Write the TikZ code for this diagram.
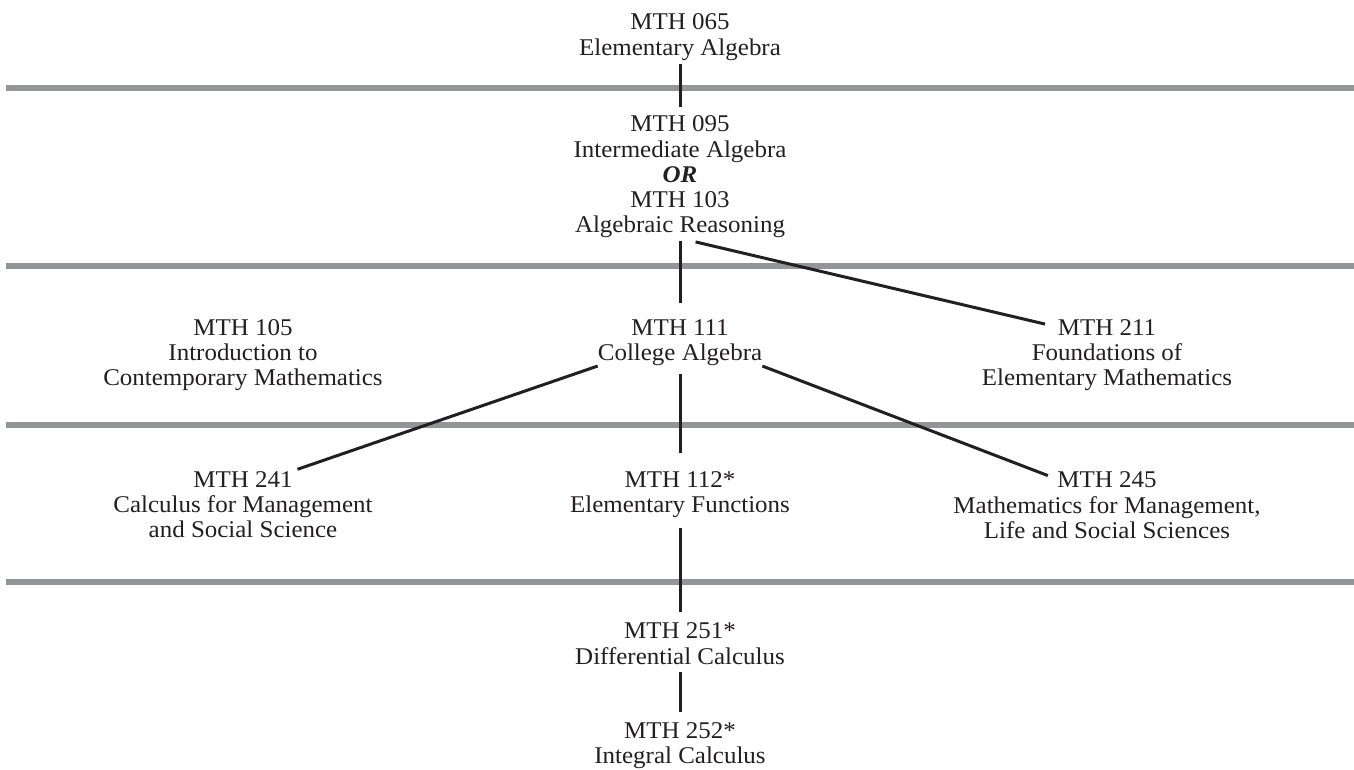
\documentclass[tikz,border=0pt]{standalone}
\usepackage{fontspec}
\setmainfont[FakeStretch=1.04]{Liberation Serif}
\usetikzlibrary{positioning}

\definecolor{tinta}{RGB}{35,31,32}
\definecolor{faixa}{RGB}{147,149,152}

\tikzset{
  codigo/.style={inner sep=0pt, anchor=base, text=tinta},
  titulo/.style={inner sep=0pt, align=center, text=tinta, below=8.6pt of #1},
  liga/.style={draw=tinta, line width=3pt},
}

\begin{document}
\begin{tikzpicture}[x=1pt,y=-1pt,font=\fontsize{24}{25}\selectfont]

\useasboundingbox (0,0) rectangle (1354,770);

% Faixas cinzentas entre os niveis
\foreach \y in {88,266,424.5,582} {
  \draw[faixa, line width=6pt] (6,\y) -- (1354,\y);
}

% Nivel 1
\node[codigo] (c065) at (680,30) {MTH 065};
\node[titulo=c065] (t065) {Elementary Algebra};

% Nivel 2
\node[codigo] (c095) at (680,132) {MTH 095};
\node[titulo=c095] (t095) {Intermediate Algebra\\\textbf{\textit{OR}}\\MTH 103\\Algebraic Reasoning};

% Nivel 3
\node[codigo] (c105) at (243,335) {MTH 105};
\node[titulo=c105] (t105) {Introduction to\\Contemporary Mathematics};
\node[codigo] (c111) at (680,335) {MTH 111};
\node[titulo=c111] (t111) {College Algebra};
\node[codigo] (c211) at (1107,335) {MTH 211};
\node[titulo=c211] (t211) {Foundations of\\Elementary Mathematics};

% Nivel 4
\node[codigo] (c241) at (243,487) {MTH 241};
\node[titulo=c241] (t241) {Calculus for Management\\and Social Science};
\node[codigo] (c112) at (680,487) {MTH 112*};
\node[titulo=c112] (t112) {Elementary Functions};
\node[codigo] (c245) at (1107,487) {MTH 245};
\node[titulo=c245] (t245) {Mathematics for Management,\\Life and Social Sciences};

% Nivel 5
\node[codigo] (c251) at (680,638) {MTH 251*};
\node[titulo=c251] (t251) {Differential Calculus};
\node[codigo] (c252) at (680,738) {MTH 252*};
\node[titulo=c252] (t252) {Integral Calculus};

% Ligacoes
\draw[liga, shorten <=3pt, shorten >=9pt] (t065.south) -- (c095.north);
\draw[liga, shorten <=3pt, shorten >=16pt] (t095.south) -- (c111.north);
\draw[liga, shorten <=16pt, shorten >=13pt] (t095.south) -- (c211.west);
\draw[liga, shorten >=5pt] (t111.south west) -- (c241.north east);
\draw[liga, shorten <=8pt, shorten >=18pt] (t111.south) -- (c112.north);
\draw[liga, shorten >=10pt] (t111.south east) -- (c245.west);
\draw[liga, shorten <=10pt, shorten >=10pt] (t112.south) -- (c251.north);
\draw[liga, shorten <=7pt, shorten >=10pt] (t251.south) -- (c252.north);

\end{tikzpicture}
\end{document}
